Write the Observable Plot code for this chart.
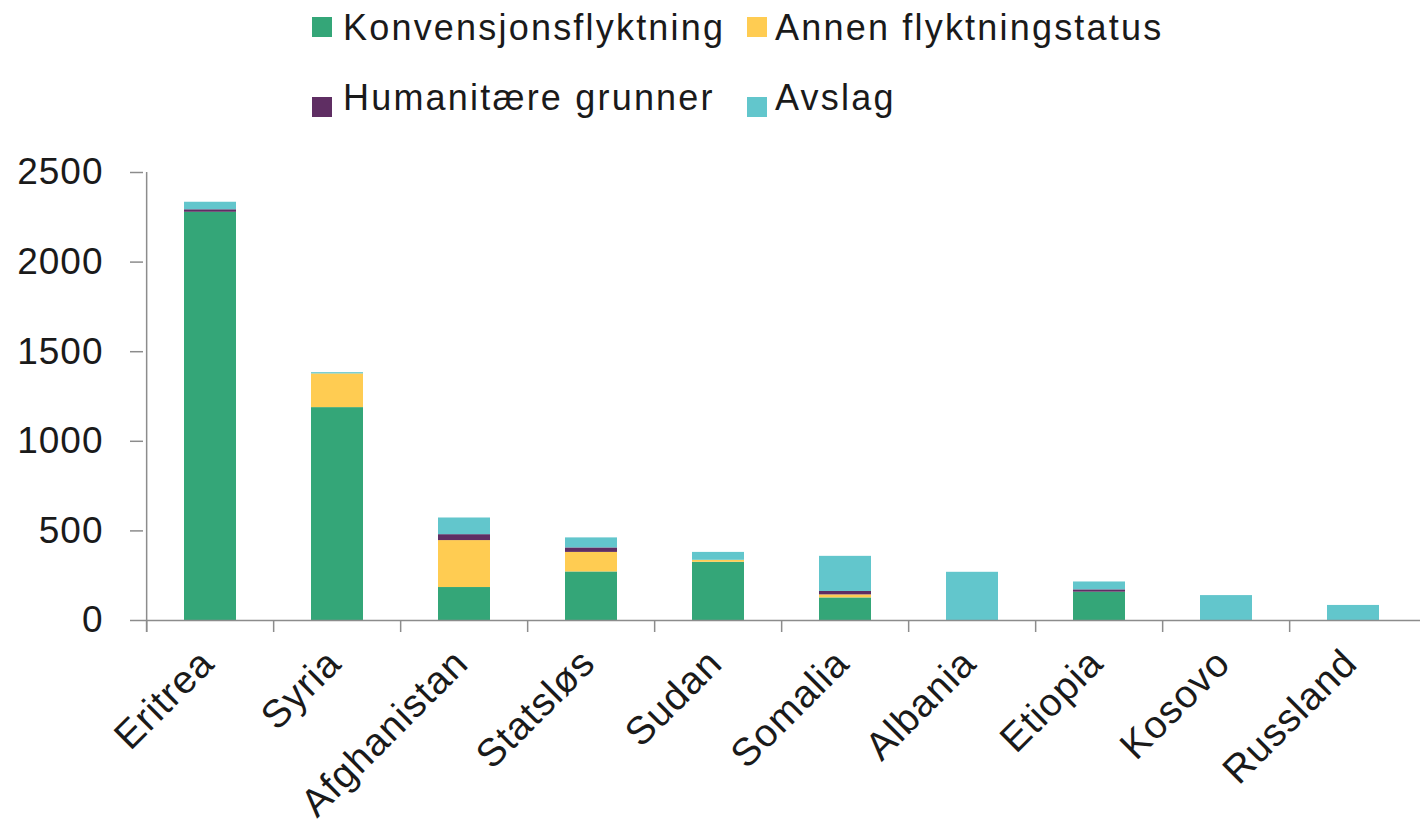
<!DOCTYPE html>
<html>
<head>
<meta charset="utf-8">
<script src="https://cdn.jsdelivr.net/npm/d3@7"></script>
<script src="https://cdn.jsdelivr.net/npm/@observablehq/plot@0.6"></script>
<style>
  html, body { margin: 0; padding: 0; background: #fff; }
  body { width: 1421px; height: 824px; overflow: hidden; font-family: "Liberation Sans", Arial, sans-serif; }
  #legend { position: relative; height: 130px; }
  .sw { position: absolute; width: 20px; height: 20px; }
  .lt { position: absolute; font-size: 36px; line-height: 36px; letter-spacing: 2.2px; color: #1a1a1a; white-space: nowrap; }
  #chart svg text { letter-spacing: 1px; }
</style>
</head>
<body>
<div id="legend"></div>
<div id="chart"></div>
<script>
const categories = ["Eritrea", "Syria", "Afghanistan", "Statsløs", "Sudan", "Somalia", "Albania", "Etiopia", "Kosovo", "Russland"];
const seriesNames = ["Konvensjonsflyktning", "Annen flyktningstatus", "Humanitære grunner", "Avslag"];
const seriesColors = ["#34a678", "#ffcc52", "#5f2e63", "#62c6cc"];
const konvensjon = [2278, 1188, 184, 271, 325, 126, 0, 158, 0, 0];
const annen      = [0, 188, 262, 109, 11, 17, 0, 0, 0, 0];
const humanitaere= [14, 0, 33, 25, 0, 19, 0, 13, 0, 0];
const avslag     = [42, 7, 93, 56, 44, 196, 269, 44, 139, 84];
const yTicks = [0, 500, 1000, 1500, 2000, 2500];

const seriesValues = [konvensjon, annen, humanitaere, avslag];
const data = [];
seriesNames.forEach((s, si) => {
  categories.forEach((c, ci) => data.push({country: c, status: s, value: seriesValues[si][ci]}));
});

// Legend (HTML, above the SVG)
const legend = document.getElementById("legend");
const legendPos = [[312, 17, 343, 9.5], [747, 17, 775, 9.5], [312, 97, 343, 79.5], [747, 97, 775, 79.5]];
seriesNames.forEach((s, i) => {
  const [sx, sy, tx, ty] = legendPos[i];
  const sw = document.createElement("div");
  sw.className = "sw"; sw.style.left = sx + "px"; sw.style.top = sy + "px"; sw.style.background = seriesColors[i];
  const t = document.createElement("div");
  t.className = "lt"; t.style.left = tx + "px"; t.style.top = ty + "px"; t.textContent = s;
  legend.appendChild(sw); legend.appendChild(t);
});

const W = 1421, ML = 143, MR = 1;
const step = (W - ML - MR) / categories.length;
const gray = "#8c8c8c";

const chart = Plot.plot({
  width: W,
  height: 694,
  marginLeft: ML,
  marginRight: MR,
  marginTop: 42,
  marginBottom: 204,
  style: {fontFamily: "'Liberation Sans', Arial, sans-serif", fontSize: "36px", color: "#1a1a1a", background: "#fff"},
  x: {type: "band", domain: categories, paddingInner: 0.59, paddingOuter: 0.295, align: 0.5},
  y: {domain: [0, 2500]},
  color: {domain: seriesNames, range: seriesColors},
  marks: [
    Plot.barY(data, {x: "country", y: "value", fill: "status", order: seriesNames}),
    Plot.ruleY([0], {stroke: gray, strokeWidth: 1.5}),
    Plot.ruleX([categories[0]], {x: d => d, dx: -step / 2, y1: 2500, y2: 0, insetBottom: -12, stroke: gray, strokeWidth: 1.5}),
    Plot.ruleX(categories, {x: d => d, dx: -step / 2, y1: 0, y2: 0, insetBottom: -12, stroke: gray, strokeWidth: 1.5}),
    Plot.axisY({ticks: yTicks, tickSize: 13, tickPadding: 27, stroke: gray, strokeWidth: 1.5, label: null, fontSize: 37, tickFormat: d => String(d)}),
    Plot.axisX({tickSize: 0, tickRotate: -45, tickPadding: 36, dx: -3, label: null, fontSize: 39})
  ]
});
document.getElementById("chart").appendChild(chart);
</script>
</body>
</html>
